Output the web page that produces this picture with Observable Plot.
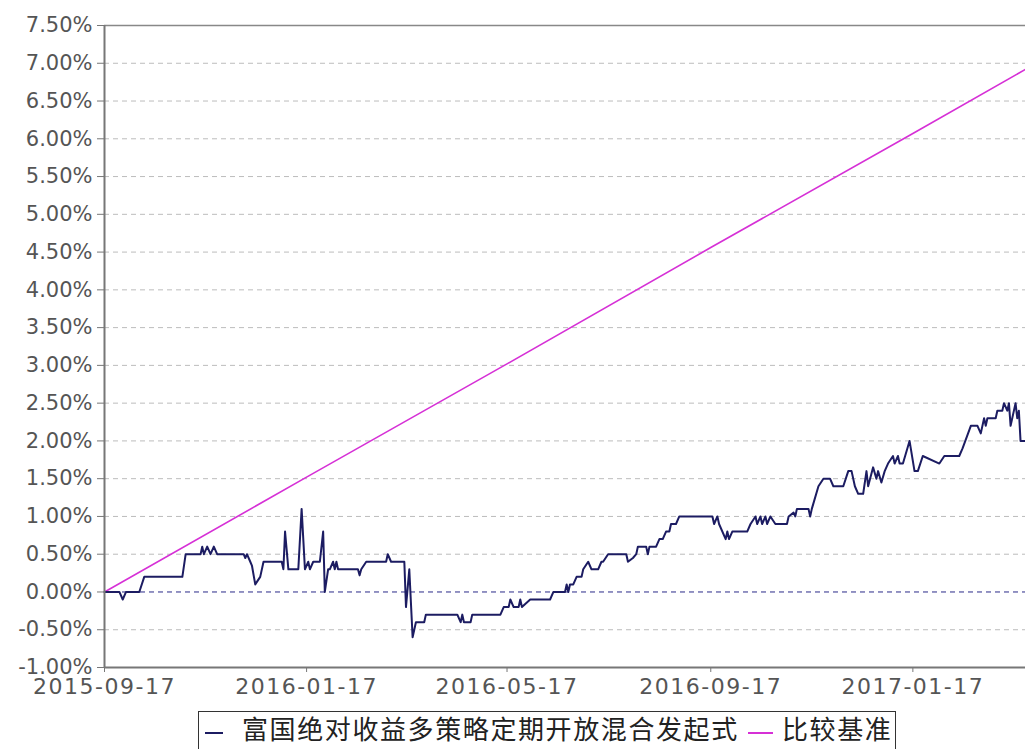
<!DOCTYPE html>
<html>
<head>
<meta charset="utf-8">
<script src="https://cdn.jsdelivr.net/npm/d3@7"></script>
<script src="https://cdn.jsdelivr.net/npm/@observablehq/plot@0.6"></script>
<style>
  html, body { margin: 0; padding: 0; background: #fff; }
  #wrap { position: relative; width: 1025px; height: 749px; overflow: hidden; }
  #legend { position: absolute; left: 198px; top: 711px; width: 698px; height: 60px;
            border: 1.5px solid #333; box-sizing: border-box; background: #fff;
            font-family: "Noto Sans CJK SC", sans-serif; font-size: 26px; color: #222; }
  #legend .sw { position: absolute; height: 2px; top: 20px; }
  #legend .tx { position: absolute; top: 3px; line-height: 26px; white-space: nowrap; letter-spacing: 1.6px; }
</style>
</head>
<body>
<div id="wrap"><div id="chart"></div>
<div id="legend"></div></div>
<script>
// ---- data ----
const seriesNames = ["富国绝对收益多策略定期开放混合发起式", "比较基准"];
const fundDates = ["2015-09-17","2015-09-26","2015-09-28","2015-09-30","2015-10-08","2015-10-11","2015-11-03","2015-11-05","2015-11-14","2015-11-15","2015-11-16","2015-11-18","2015-11-20","2015-11-22","2015-11-24","2015-12-10","2015-12-11","2015-12-12","2015-12-14","2015-12-15","2015-12-17","2015-12-20","2015-12-22","2016-01-02","2016-01-03","2016-01-04","2016-01-06","2016-01-12","2016-01-14","2016-01-16","2016-01-18","2016-01-19","2016-01-21","2016-01-25","2016-01-27","2016-01-28","2016-01-30","2016-01-31","2016-02-02","2016-02-03","2016-02-04","2016-02-05","2016-02-17","2016-02-18","2016-02-19","2016-02-22","2016-03-05","2016-03-06","2016-03-08","2016-03-16","2016-03-17","2016-03-19","2016-03-21","2016-03-23","2016-03-28","2016-03-29","2016-04-17","2016-04-19","2016-04-20","2016-04-21","2016-04-25","2016-04-26","2016-05-13","2016-05-15","2016-05-18","2016-05-19","2016-05-21","2016-05-24","2016-05-25","2016-05-26","2016-05-31","2016-06-12","2016-06-14","2016-06-21","2016-06-22","2016-06-23","2016-06-24","2016-06-26","2016-06-28","2016-07-01","2016-07-02","2016-07-05","2016-07-07","2016-07-11","2016-07-13","2016-07-14","2016-07-17","2016-07-28","2016-07-29","2016-08-01","2016-08-03","2016-08-04","2016-08-09","2016-08-10","2016-08-11","2016-08-15","2016-08-17","2016-08-19","2016-08-21","2016-08-23","2016-08-24","2016-08-27","2016-08-29","2016-09-18","2016-09-19","2016-09-21","2016-09-22","2016-09-26","2016-09-27","2016-09-28","2016-09-30","2016-10-09","2016-10-11","2016-10-14","2016-10-15","2016-10-17","2016-10-18","2016-10-20","2016-10-21","2016-10-23","2016-10-26","2016-11-02","2016-11-03","2016-11-06","2016-11-07","2016-11-08","2016-11-15","2016-11-16","2016-11-17","2016-11-21","2016-11-24","2016-11-28","2016-11-30","2016-12-06","2016-12-09","2016-12-11","2016-12-13","2016-12-15","2016-12-18","2016-12-20","2016-12-21","2016-12-24","2016-12-26","2016-12-27","2016-12-29","2016-12-31","2017-01-02","2017-01-05","2017-01-06","2017-01-08","2017-01-09","2017-01-11","2017-01-15","2017-01-18","2017-01-20","2017-01-23","2017-02-02","2017-02-05","2017-02-14","2017-02-16","2017-02-21","2017-02-25","2017-02-27","2017-03-01","2017-03-02","2017-03-03","2017-03-08","2017-03-09","2017-03-12","2017-03-13","2017-03-15","2017-03-16","2017-03-17","2017-03-20","2017-03-21","2017-03-22","2017-03-23","2017-03-26"];
const fundValues = [0,0,-0.1,0,0,0.2,0.2,0.5,0.5,0.6,
  0.5,0.6,0.5,0.6,0.5,0.5,0.45,0.5,0.4,0.35,
  0.1,0.2,0.4,0.4,0.3,0.8,0.3,0.3,1.1,0.3,
  0.4,0.3,0.4,0.4,0.8,0,0.3,0.3,0.4,0.3,
  0.4,0.3,0.3,0.22,0.3,0.4,0.4,0.5,0.4,0.4,
  -0.2,0.3,-0.6,-0.4,-0.4,-0.3,-0.3,-0.4,-0.3,-0.4,
  -0.4,-0.3,-0.3,-0.2,-0.2,-0.1,-0.2,-0.2,-0.1,-0.2,
  -0.1,-0.1,0,0,0.1,0,0.1,0.1,0.2,0.2,
  0.3,0.4,0.3,0.3,0.4,0.4,0.5,0.5,0.4,0.45,
  0.5,0.6,0.6,0.5,0.6,0.6,0.7,0.7,0.8,0.8,
  0.9,0.9,1.0,1.0,0.9,1.0,0.9,0.7,0.8,0.7,
  0.8,0.8,0.9,1.0,0.9,1.0,0.9,1.0,0.9,1.0,
  0.9,0.9,1.0,1.05,1.0,1.1,1.1,1.0,1.1,1.4,
  1.5,1.5,1.4,1.4,1.6,1.6,1.4,1.3,1.3,1.6,
  1.4,1.65,1.5,1.6,1.45,1.6,1.7,1.8,1.7,1.8,
  1.7,1.7,2.0,1.6,1.6,1.8,1.7,1.8,1.8,1.9,
  2.2,2.2,2.1,2.3,2.2,2.3,2.3,2.4,2.4,2.5,
  2.4,2.5,2.2,2.5,2.3,2.4,2.0,2.0];
const benchDates = ["2015-09-17","2016-01-17","2016-05-17","2016-09-17","2017-01-17","2017-03-26"];
const benchValues = [0, 1.52, 3.02, 4.56, 6.07, 6.92];
const xTickLabels = ["2015-09-17","2016-01-17","2016-05-17","2016-09-17","2017-01-17"];
const yTickValues = [-1,-0.5,0,0.5,1,1.5,2,2.5,3,3.5,4,4.5,5,5.5,6,6.5,7,7.5];
const xDomainDates = ["2015-09-17","2017-03-26"];

// ---- build ----
const parse = d3.utcParse("%Y-%m-%d");
const colors = ["#1c1c62", "#d630d6"];
const n = Math.min(fundDates.length, fundValues.length);
const fund = d3.range(n).map(i => ({date: parse(fundDates[i]), value: fundValues[i]}));
const bench = benchDates.map((d, i) => ({date: parse(d), value: benchValues[i]}));
const xTicks = xTickLabels.map(parse);
const gridVals = yTickValues.filter(v => v !== 0 && v !== 7.5 && v !== -1);

const chart = Plot.plot({
  width: 1025, height: 700,
  marginLeft: 104, marginRight: 0, marginTop: 25, marginBottom: 33,
  style: {fontFamily: "DejaVu Sans", fontSize: "21px", color: "#555", background: "#fff", overflow: "visible"},
  x: {type: "utc", domain: xDomainDates.map(parse), label: null},
  y: {domain: [-1, 7.5], label: null},
  marks: [
    Plot.ruleY(gridVals, {stroke: "#bcbcbc", strokeDasharray: "5,4", strokeWidth: 1}),
    Plot.ruleY([0], {stroke: "#2a2a88", strokeDasharray: "5,4", strokeWidth: 1}),
    Plot.ruleY([7.5], {stroke: "#888", strokeWidth: 1.5}),
    Plot.line(bench, {x: "date", y: "value", stroke: colors[1], strokeWidth: 1.6}),
    Plot.line(fund, {x: "date", y: "value", stroke: colors[0], strokeWidth: 2}),
    Plot.axisY({ticks: yTickValues, tickFormat: d => d.toFixed(2) + "%", tickSize: 7, tickPadding: 5, stroke: "#777", fill: "#555", fontSize: 21, label: null}),
    Plot.axisX({ticks: xTicks, tickFormat: d3.utcFormat("%Y-%m-%d"), tickSize: 5, tickPadding: 6, stroke: "#777", fill: "#555", fontSize: 22, label: null}),
    Plot.ruleX([parse(xDomainDates[0])], {stroke: "#777", strokeWidth: 2}),
    Plot.ruleY([-1], {stroke: "#777", strokeWidth: 2})
  ]
});
document.getElementById("chart").appendChild(chart);
chart.querySelectorAll('g[aria-label="x-axis tick label"] text').forEach(t => t.setAttribute("letter-spacing", "1.5"));

// legend
const lg = document.getElementById("legend");
const items = [
  {sw: [6, 18], tx: 43},
  {sw: [549, 25], tx: 583}
];
items.forEach((it, i) => {
  const s = document.createElement("div");
  s.className = "sw"; s.style.left = it.sw[0] + "px"; s.style.width = it.sw[1] + "px";
  s.style.background = colors[i];
  lg.appendChild(s);
  const t = document.createElement("div");
  t.className = "tx"; t.style.left = it.tx + "px"; t.textContent = seriesNames[i];
  lg.appendChild(t);
});
</script>
</body>
</html>
